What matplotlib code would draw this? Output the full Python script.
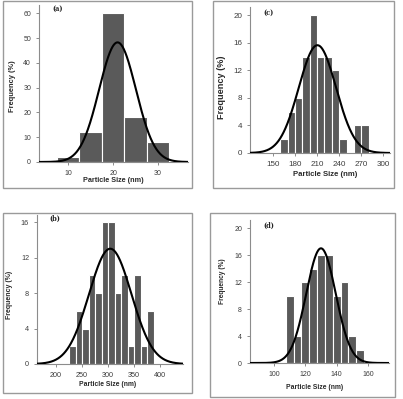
import numpy as np
import matplotlib
matplotlib.use('Agg')
import matplotlib.pyplot as plt
from matplotlib.patches import Rectangle

plt.rcParams['font.family'] = ['Liberation Sans', 'DejaVu Sans']

# (a)
a_centers = [10, 15, 20, 25, 30]
a_freq = [2, 12, 60, 18, 8]
a_fit = (21.0, 4.1, 48.3)   # mean, sd, peak
# (b)
b_centers = [231.25, 243.75, 256.25, 268.75, 281.25, 293.75, 306.25,
             318.75, 331.25, 343.75, 356.25, 368.75, 381.25]
b_freq = [2, 6, 4, 10, 8, 16, 16, 8, 10, 2, 10, 2, 6]
b_fit = (304.0, 40.7, 13.0)
# (c)
c_centers = [165, 175, 185, 195, 205, 215, 225, 235, 245, 255, 265, 275]
c_freq = [2, 6, 8, 14, 20, 14, 14, 12, 2, 0, 4, 4]
c_fit = (210.5, 25.3, 15.65)
# (d)
d_centers = [110, 115, 120, 125, 130, 135, 140, 145, 150, 155]
d_freq = [10, 4, 12, 14, 16, 16, 10, 12, 4, 2]
d_fit = (130.0, 9.4, 17.0)

W, H = 403, 399
fig = plt.figure(figsize=(W / 100, H / 100), dpi=100)
fig.patch.set_facecolor('white')

panels = [
    # tag, centers, freq, width, fit, axes px (l, r, top, bottom), xlim, ylim, xticks, yticks,
    # frame px (x0, x1, y0, y1), ylabel (x, y, size), xlabel (x, y, size), tick size, tag pos
    ('(a)', a_centers, a_freq, 5, a_fit, (39, 188, 5, 162), (3.5, 36.7), (0, 63.4),
     [10, 20, 30], [0, 10, 20, 30, 40, 50, 60], (3, 192, 1, 188),
     (12.3, 86, 5.4), (113, 181, 5.2), 5.0, (58, 9)),
    ('(c)', c_centers, c_freq, 10, c_fit, (250, 390, 7, 153), (119, 309), (0, 21.2),
     [150, 180, 210, 240, 270, 300], [0, 4, 8, 12, 16, 20], (213, 394, 1, 188),
     (222, 87.5, 6.6), (325, 174.5, 5.6), 5.8, (269, 12.5)),
    ('(b)', b_centers, b_freq, 12.5, b_fit, (37, 183, 215, 364), (163.5, 443.6), (0, 16.8),
     [200, 250, 300, 350, 400], [0, 4, 8, 12, 16], (3, 192, 212.5, 393),
     (10, 295, 5.0), (108, 385, 4.9), 5.2, (55, 219)),
    ('(d)', d_centers, d_freq, 5, d_fit, (250, 389, 220, 363), (84.7, 173.4), (0, 21.2),
     [100, 120, 140, 160], [0, 4, 8, 12, 16, 20], (210, 395, 212.5, 396.5),
     (222, 281, 4.8), (315, 387.5, 4.9), 5.0, (269, 225.5)),
]

for (tag, centers, freq, w, fit, box, xlim, ylim, xt, yt,
     frame, ylab, xlab, tsize, tag_pos) in panels:
    l, r, t, b = box
    ax = fig.add_axes([l / W, 1 - b / H, (r - l) / W, (b - t) / H])
    ax.bar(centers, freq, width=w, color='#5a5a5a', edgecolor='white',
           linewidth=0.8, zorder=2)
    mu, sd, peak = fit
    xs = np.linspace(xlim[0], xlim[1], 400)
    ax.plot(xs, peak * np.exp(-(xs - mu) ** 2 / (2 * sd ** 2)),
            color='black', lw=1.5, zorder=3)
    ax.set_xlim(xlim)
    ax.set_ylim(ylim)
    ax.set_xticks(xt)
    ax.set_yticks(yt)
    for s in ['top', 'right']:
        ax.spines[s].set_visible(False)
    for s in ['left', 'bottom']:
        ax.spines[s].set_color('#8c8c8c')
        ax.spines[s].set_linewidth(0.8)
    ax.tick_params(direction='out', length=2.2, width=0.7, color='#8c8c8c',
                   labelsize=tsize, labelcolor='#3c3c3c', pad=3.5)
    ax.patch.set_alpha(0)

    fig.text(ylab[0] / W, 1 - ylab[1] / H, 'Frequency (%)', rotation=90,
             ha='center', va='center', fontsize=ylab[2], fontweight='bold', color='#2a2a2a')
    fig.text(xlab[0] / W, 1 - xlab[1] / H, 'Particle Size (nm)',
             ha='center', va='center', fontsize=xlab[2], fontweight='bold', color='#2a2a2a')
    fig.text(tag_pos[0] / W, 1 - tag_pos[1] / H, tag, ha='center', va='center',
             fontsize=4.8, fontweight='bold', family='DejaVu Serif', color='#222222')

    x0, x1, y0, y1 = frame
    fig.patches.append(Rectangle((x0 / W, 1 - y1 / H), (x1 - x0) / W, (y1 - y0) / H,
                                 transform=fig.transFigure, fill=False,
                                 edgecolor='#9a9a9a', linewidth=1.0))

fig.savefig('out.png', dpi=100)
